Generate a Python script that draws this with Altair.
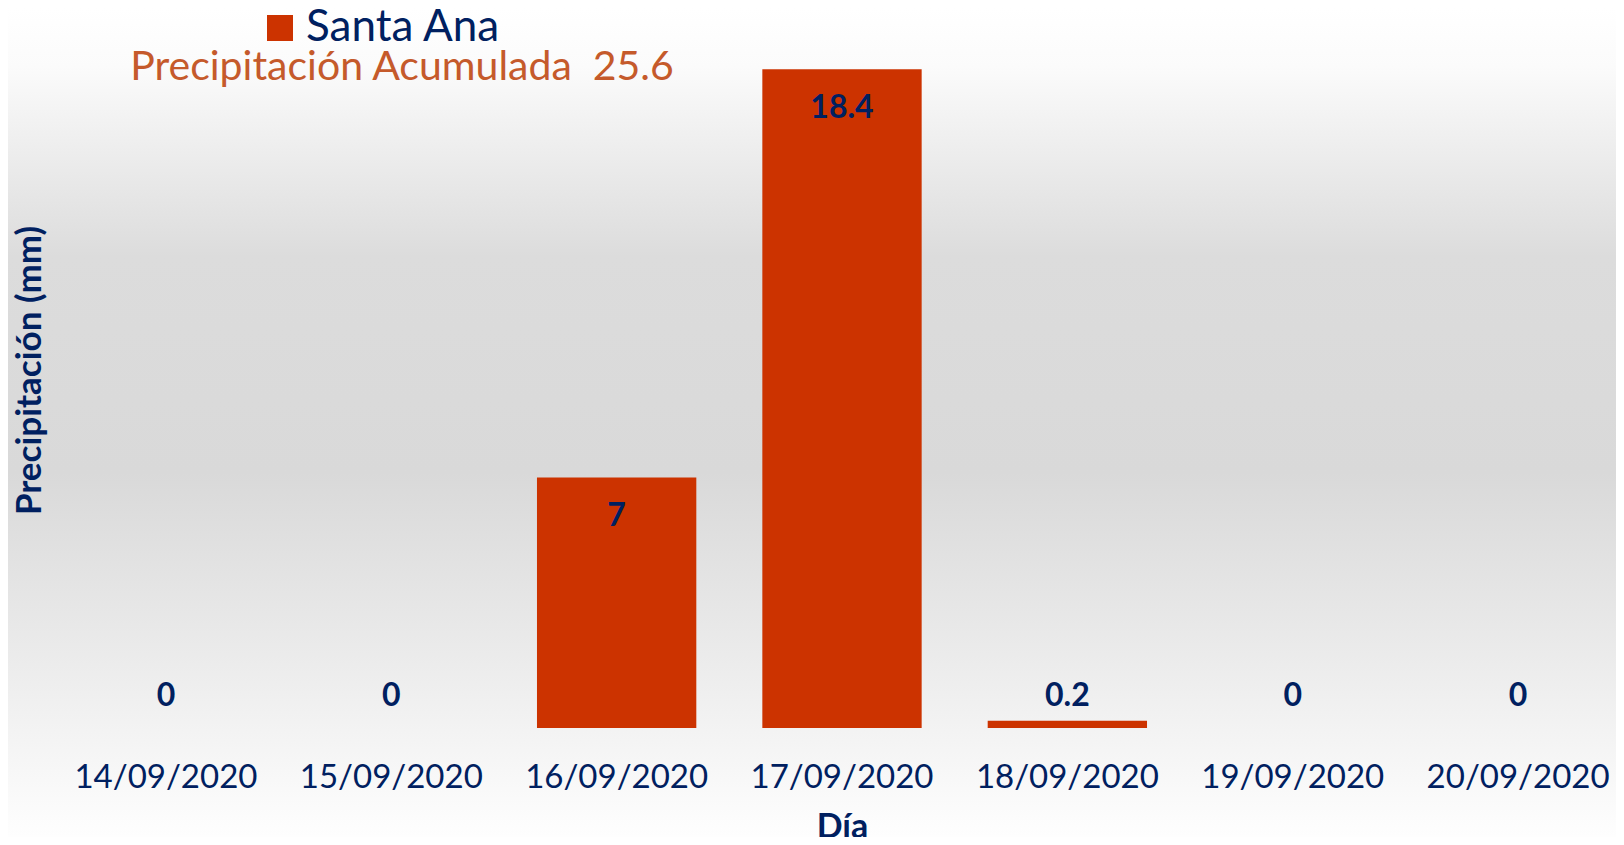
import altair as alt
import pandas as pd

# ---- data ----
dias = ["14/09/2020", "15/09/2020", "16/09/2020", "17/09/2020",
        "18/09/2020", "19/09/2020", "20/09/2020"]
precip = [0, 0, 7, 18.4, 0.2, 0, 0]
estacion = "Santa Ana"

df = pd.DataFrame({"dia": dias, "precip": precip, "estacion": [estacion] * len(dias)})

NAVY = "#002060"
BAR = "#CC3300"
ORANGE = "#C55A2B"
FONT = "Lato"

W, H = 1534, 716
PAD = {"left": 67, "top": 4, "right": 7, "bottom": 109}

x_enc = alt.X(
    "dia:N",
    sort=dias,
    scale=alt.Scale(paddingInner=0.293, paddingOuter=0.05),
    axis=alt.Axis(
        title="Día",
        labelAngle=0,
        labelFontSize=33,
        labelFont=FONT,
        labelColor=NAVY,
        labelPadding=33,
        labelLimit=0,
        ticks=False,
        domain=False,
        titleFont=FONT,
        titleFontSize=34,
        titleFontWeight="bold",
        titleColor=NAVY,
        titlePadding=16,
        zindex=2,
    ),
)
y_scale = alt.Scale(domain=[0, 20], nice=False)
y_enc = alt.Y(
    "precip:Q",
    scale=y_scale,
    axis=alt.Axis(
        title="Precipitación (mm)",
        labels=False,
        ticks=False,
        domain=False,
        grid=False,
        titleFont=FONT,
        titleFontSize=35,
        titleFontWeight="bold",
        titleColor=NAVY,
        titlePadding=28,
        zindex=2,
    ),
)

base = alt.Chart(df)

background = base.transform_filter("datum.dia == '14/09/2020'").mark_rect(
    fill=alt.LinearGradient(
        gradient="linear",
        x1=0, x2=0, y1=0, y2=1,
        stops=[
            alt.GradientStop(offset=0.0, color="#ffffff"),
            alt.GradientStop(offset=0.07, color="#fbfbfb"),
            alt.GradientStop(offset=0.30, color="#dcdcdc"),
            alt.GradientStop(offset=0.56, color="#d9d9d9"),
            alt.GradientStop(offset=0.78, color="#ebebeb"),
            alt.GradientStop(offset=1.0, color="#fefefe"),
        ],
    )
).encode(
    x=alt.value(-PAD["left"]),
    x2=alt.value(W + PAD["right"]),
    y=alt.value(-PAD["top"]),
    y2=alt.value(H + PAD["bottom"]),
)

bars = base.mark_bar().encode(
    x=x_enc,
    y=y_enc,
    color=alt.Color(
        "estacion:N",
        scale=alt.Scale(domain=[estacion], range=[BAR]),
        legend=alt.Legend(
            title=None,
            orient="none",
            legendX=183,
            legendY=-6,
            symbolType="square",
            symbolSize=676,
            symbolStrokeWidth=0,
            labelFontSize=44,
            labelFont=FONT,
            labelColor=NAVY,
            labelOffset=4,
            labelLimit=0,
            padding=0,
        ),
    ),
)

labels_big = base.transform_filter("datum.precip >= 1").mark_text(
    font=FONT, fontSize=32, fontWeight="bold", color=NAVY, baseline="middle", dy=39
).encode(x=alt.X("dia:N", sort=dias), y=alt.Y("precip:Q", scale=y_scale), text="precip:Q")

labels_small = base.transform_filter("datum.precip < 1").mark_text(
    font=FONT, fontSize=32, fontWeight="bold", color=NAVY, baseline="middle", dy=-32
).encode(x=alt.X("dia:N", sort=dias), y=alt.datum(0, scale=y_scale), text="precip:Q")

total_text = base.transform_aggregate(total="sum(precip)").transform_calculate(
    label="'Precipitación Acumulada \u00a0' + format(datum.total, '.1f')"
).mark_text(
    font=FONT, fontSize=41, color=ORANGE, align="center", baseline="middle"
).encode(x=alt.value(402 - 75), y=alt.value(68 - 12), text="label:N")

chart = alt.layer(background, bars, labels_big, labels_small, total_text).properties(
    width=W,
    height=H,
    autosize=alt.AutoSizeParams(type="none"),
    padding=PAD,
    background="white",
).configure_view(stroke=None)

chart.save("out.html", embed_options={"renderer": "svg", "actions": False})
